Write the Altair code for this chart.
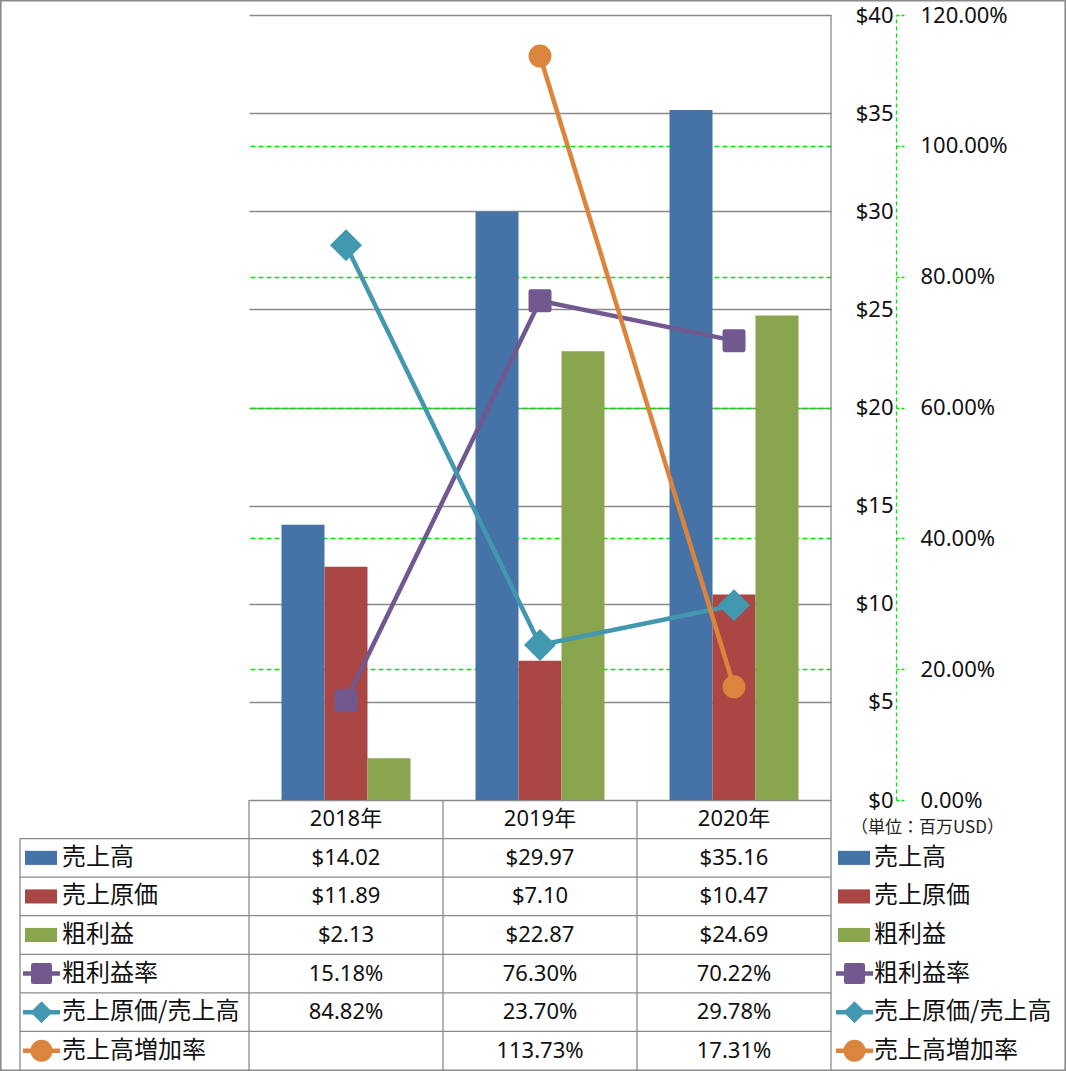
import altair as alt
import pandas as pd

# ---------------- data ----------------
years = ["2018年", "2019年", "2020年"]
bar_series = ["売上高", "売上原価", "粗利益"]
sales = [14.02, 29.97, 35.16]
cogs = [11.89, 7.10, 10.47]
gross = [2.13, 22.87, 24.69]

line_series = ["粗利益率", "売上原価/売上高", "売上高増加率"]
gross_margin = [15.18, 76.30, 70.22]
cogs_ratio = [84.82, 23.70, 29.78]
sales_growth = [None, 113.73, 17.31]

usd_ticks = [0, 5, 10, 15, 20, 25, 30, 35, 40]
pct_ticks = [0, 20, 40, 60, 80, 100, 120]
unit_label = "（単位：百万USD）"

# ---------------- styling ----------------
all_series = bar_series + line_series
all_colors = ["#4572A7", "#AA4643", "#89A54E", "#71588F", "#4198AF", "#DB843D"]
FONT = "Noto Sans, Noto Sans CJK JP"
JFONT = "Noto Sans CJK JP"
GRAY = "#8a8a8a"
GREEN = "#00e600"
TXT = "#111111"

PLOT_W, PLOT_H = 582, 785
TABLE_TOP, TABLE_BOTTOM = 785, 1055
ROW_H = (TABLE_BOTTOM - TABLE_TOP) / 7.0
LEFT_EDGE = -229          # left border of the label column (relative to plot)
LEFT_SWATCH = -208
LEFT_LINE = (-226, -189)
LEFT_TEXT = -187
RIGHT_SWATCH = 605
RIGHT_LINE = (587, 624)
RIGHT_TEXT = 625

RECT_PATH = "M-1,-0.44H1V0.44H-1Z"
RSQUARE = "M-0.8,-1H0.8Q1,-1,1,-0.8V0.8Q1,1,0.8,1H-0.8Q-1,1,-1,0.8V-0.8Q-1,-1,-0.8,-1Z"
marker_style = {
    "粗利益率": (RSQUARE, 529, 441),
    "売上原価/売上高": ("diamond", 1024, 484),
    "売上高増加率": ("circle", 529, 484),
}

# ---------------- tables ----------------
bar_vals = {"売上高": sales, "売上原価": cogs, "粗利益": gross}
line_vals = {"粗利益率": gross_margin, "売上原価/売上高": cogs_ratio, "売上高増加率": sales_growth}

bars_df = pd.DataFrame(
    [{"year": y, "series": s, "value": bar_vals[s][i]} for s in bar_series for i, y in enumerate(years)]
)
lines_df = pd.DataFrame(
    [{"year": y, "series": s, "pct": line_vals[s][i]} for s in line_series for i, y in enumerate(years)]
)

HEADER = "__header"
row_keys = [HEADER] + all_series
table_rows = [{"row": HEADER, "year": y, "text": y} for y in years]
for s in bar_series:
    for i, y in enumerate(years):
        table_rows.append({"row": s, "year": y, "text": f"${bar_vals[s][i]:.2f}"})
for s in line_series:
    for i, y in enumerate(years):
        v = line_vals[s][i]
        table_rows.append({"row": s, "year": y, "text": "" if v is None else f"{v:.2f}%"})
table_df = pd.DataFrame(table_rows)

legend_df = pd.DataFrame(
    [{"row": s, "series": s, "kind": "bar"} for s in bar_series]
    + [{"row": s, "series": s, "kind": "line"} for s in line_series]
)
one = pd.DataFrame({"k": [0]})
years_df = pd.DataFrame({"year": years})
rows_df = pd.DataFrame({"row": all_series})
unit_df = pd.DataFrame({"row": [HEADER], "text": [unit_label]})

# ---------------- encodings ----------------
xscale = alt.Scale(type="band", domain=years, paddingInner=0, paddingOuter=0)
X = alt.X("year:N", scale=xscale, axis=None)
C = alt.Color("series:N", scale=alt.Scale(domain=all_series, range=all_colors), legend=None)

usd_axis = alt.Axis(
    orient="right", values=usd_ticks, labelExpr="'$' + datum.value",
    labelAlign="right", labelBaseline="middle", labelPadding=62,
    ticks=False, domain=False, grid=True, gridColor=GRAY, gridWidth=1.3,
    labelFont=FONT, labelFontSize=22, labelColor=TXT, title=None,
)
pct_axis = alt.Axis(
    orient="right", offset=65, values=pct_ticks,
    labelExpr="format(datum.value, '.2f') + '%'",
    labelAlign="left", labelBaseline="middle", labelPadding=16,
    domain=True, domainColor=GREEN, domainDash=[4, 3], domainWidth=1.3,
    ticks=True, tickColor=GREEN, tickDash=[3, 2], tickSize=8, tickWidth=1.3,
    grid=True, gridColor=GREEN, gridDash=[5, 3], gridWidth=1.3,
    gridOpacity={"condition": {"test": "datum.value === 0 || datum.value === 120", "value": 0}, "value": 1},
    labelFont=FONT, labelFontSize=22, labelColor=TXT, title=None,
)
Ypct = alt.Y("pct:Q", scale=alt.Scale(domain=[0, 120], nice=False), axis=pct_axis)
rowscale = alt.Scale(type="band", domain=row_keys, range=[TABLE_TOP, TABLE_BOTTOM], paddingInner=0, paddingOuter=0)
Yrow = alt.Y("row:N", scale=rowscale, axis=None)
Yrow0 = alt.Y("row:N", scale=rowscale, axis=None, bandPosition=0)

# ---------------- bars ----------------
bars = alt.Chart(bars_df).mark_bar().encode(
    x=X,
    xOffset=alt.XOffset("series:N", scale=alt.Scale(domain=bar_series, paddingInner=0, paddingOuter=0.756)),
    y=alt.Y("value:Q", scale=alt.Scale(domain=[0, 40], nice=False), axis=usd_axis),
    color=C,
)

# ---------------- lines ----------------
pct_layers = []
for s in line_series:
    shape, size, _ = marker_style[s]
    base = alt.Chart(lines_df).transform_filter(alt.datum.series == s)
    pct_layers.append(base.mark_line(strokeWidth=4.5).encode(x=X, y=Ypct, color=C))
    pct_layers.append(
        base.mark_point(shape=shape, size=size, filled=True, opacity=1).encode(x=X, y=Ypct, color=C)
    )
pct_layer = alt.layer(*pct_layers)

# ---------------- data table ----------------
tbl = []
tbl.append(
    alt.Chart(table_df).mark_text(font=FONT, fontSize=22, color=TXT, baseline="middle").encode(
        x=X, y=Yrow, text="text:N"
    )
)
for tx, sw, (l0, l1) in [(LEFT_TEXT, LEFT_SWATCH, LEFT_LINE), (RIGHT_TEXT, RIGHT_SWATCH, RIGHT_LINE)]:
    tbl.append(
        alt.Chart(legend_df).mark_text(font=JFONT, fontSize=24, color=TXT, align="left", baseline="middle").encode(
            x=alt.value(tx), y=Yrow, text="series:N"
        )
    )
    tbl.append(
        alt.Chart(legend_df).transform_filter(alt.datum.kind == "bar")
        .mark_point(shape=RECT_PATH, size=1024, filled=True, opacity=1)
        .encode(x=alt.value(sw), y=Yrow, color=C)
    )
    tbl.append(
        alt.Chart(legend_df).transform_filter(alt.datum.kind == "line")
        .mark_rule(strokeWidth=4.5)
        .encode(x=alt.value(l0), x2=alt.value(l1), y=Yrow, color=C)
    )
    for s in line_series:
        shape, _, lsize = marker_style[s]
        tbl.append(
            alt.Chart(legend_df).transform_filter(alt.datum.series == s)
            .mark_point(shape=shape, size=lsize, filled=True, opacity=1)
            .encode(x=alt.value((l0 + l1) / 2), y=Yrow, color=C)
        )

tbl.append(
    alt.Chart(unit_df).mark_text(font=JFONT, fontSize=17, color="#222", align="left", baseline="middle", dy=9).encode(
        x=alt.value(602), y=Yrow, text="text:N"
    )
)
# grid lines of the table
tbl.append(
    alt.Chart(rows_df).mark_rule(color=GRAY, strokeWidth=1.3).encode(
        y=Yrow0, x=alt.value(LEFT_EDGE), x2=alt.value(PLOT_W)
    )
)
tbl.append(
    alt.Chart(years_df).mark_rule(color=GRAY, strokeWidth=1.3).encode(
        x=alt.X("year:N", scale=xscale, axis=None, bandPosition=0),
        y=alt.value(TABLE_TOP), y2=alt.value(TABLE_BOTTOM),
    )
)
tbl.append(
    alt.Chart(one).mark_rule(color=GRAY, strokeWidth=1.3).encode(
        x=alt.value(PLOT_W), y=alt.value(0), y2=alt.value(TABLE_BOTTOM)
    )
)
tbl.append(
    alt.Chart(one).mark_rule(color=GRAY, strokeWidth=1.3).encode(
        x=alt.value(LEFT_EDGE), y=alt.value(TABLE_TOP + ROW_H), y2=alt.value(TABLE_BOTTOM)
    )
)
tbl.append(
    alt.Chart(one).mark_rect(fill="transparent", stroke=GRAY, strokeWidth=1.6).encode(
        x=alt.value(-248.2), x2=alt.value(816.2), y=alt.value(-14.2), y2=alt.value(1055.2)
    )
)
table_layer = alt.layer(*tbl)

chart = (
    alt.layer(bars, pct_layer, table_layer)
    .resolve_scale(y="independent")
    .properties(
        width=PLOT_W,
        height=PLOT_H,
        autosize=alt.AutoSizeParams(type="none"),
        padding={"left": 249, "top": 15, "right": 235, "bottom": 271},
        background="white",
    )
    .configure_view(strokeWidth=0)
)

chart.save("out.html", embed_options={"renderer": "svg", "actions": False})
